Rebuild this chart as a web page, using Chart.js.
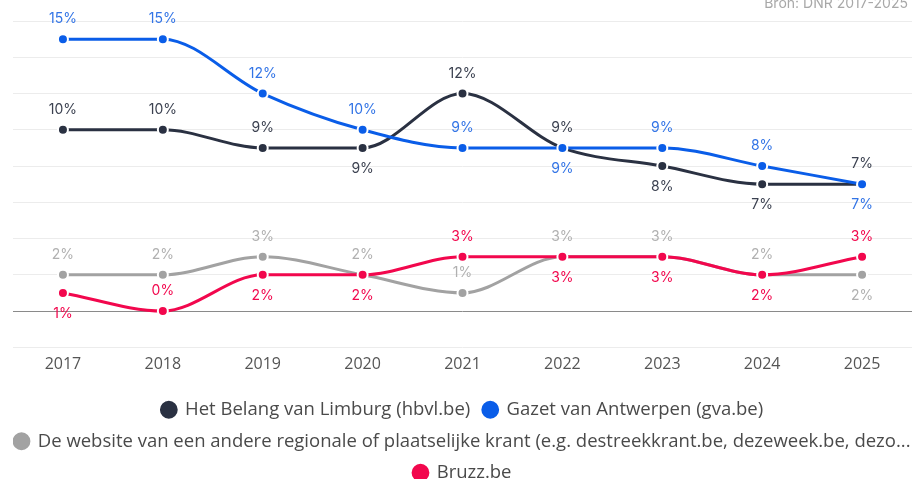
<!DOCTYPE html>
<html>
<head>
<meta charset="utf-8">
<script src="https://cdn.jsdelivr.net/npm/chart.js@4.4.1/dist/chart.umd.min.js"></script>
<style>
  html, body { margin:0; padding:0; background:#fff; overflow:hidden; }
  #wrap { width:920px; height:479px; overflow:hidden; position:relative; }
  #box { width:920px; height:492px; position:relative; }
</style>
</head>
<body>
<div id="wrap"><div id="box"><canvas id="chart"></canvas></div></div>
<script>
// ====== data ======
const years = ["2017","2018","2019","2020","2021","2022","2023","2024","2025"];

const hbvl   = [10, 10, 9, 9, 12, 9, 8, 7, 7];
const gva    = [15, 15, 12, 10, 9, 9, 9, 8, 7];
const other  = [2, 2, 3, 2, 1, 3, 3, 2, 2];
const bruzz  = [1, 0, 2, 2, 3, 3, 3, 2, 3];

const seriesNames = [
  "Het Belang van Limburg (hbvl.be)",
  "Gazet van Antwerpen (gva.be)",
  "De website van een andere regionale of plaatselijke krant (e.g. destreekkrant.be, dezeweek.be, dezo...",
  "Bruzz.be"
];

// label above (1) or below (-1) the point
const sideHbvl  = [1, 1, 1, -1, 1, 1, -1, -1, 1];
const sideGva   = [1, 1, 1, 1, 1, -1, 1, 1, -1];
const sideOther = [1, 1, 1, 1, 1, 1, 1, 1, -1];
const sideBruzz = [-1, 1, -1, -1, 1, -1, -1, -1, 1];

const yTicks = { min: -2, max: 16, step: 2 };
const source = "Bron: DNR 2017-2025";

// ====== styles ======
const COLORS = ["#2a3142", "#0a5de8", "#a2a2a2", "#f2074d"];
const LABEL_COLORS = ["#3b4150", "#3274e6", "#b0b0b0", "#f2074d"];
const SIDES = [sideHbvl, sideGva, sideOther, sideBruzz];

// later series on top
const mkSet = (i, data) => ({
  label: seriesNames[i],
  data,
  order: 4 - i,
  borderColor: COLORS[i],
  backgroundColor: COLORS[i],
  borderWidth: 3,
  pointRadius: 5,
  pointHoverRadius: 5,
  pointBackgroundColor: COLORS[i],
  pointBorderColor: "#fff",
  pointBorderWidth: 2,
  cubicInterpolationMode: "monotone",
  clip: false
});

// valeurs au-dessus / en dessous des points
const valueLabels = {
  id: "valueLabels",
  afterDatasetsDraw(chart) {
    const ctx = chart.ctx;
    ctx.save();
    ctx.font = "14px Inter, 'Open Sans', sans-serif";
    ctx.textAlign = "center";
    ctx.textBaseline = "middle";
    chart.data.datasets.forEach((ds, i) => {
      const meta = chart.getDatasetMeta(i);
      ctx.fillStyle = LABEL_COLORS[i];
      meta.data.forEach((pt, j) => {
        const off = SIDES[i][j] > 0 ? -20 : 21;
        ctx.fillText(ds.data[j] + "%", pt.x, pt.y + off);
      });
    });
    // source text top right
    ctx.font = "14px Inter, 'Open Sans', sans-serif";
    ctx.fillStyle = "#a8a8a8";
    ctx.textAlign = "right";
    ctx.fillText(source, 908, 4);
    ctx.restore();
  }
};

new Chart(document.getElementById("chart"), {
  type: "line",
  data: {
    labels: years,
    datasets: [mkSet(0, hbvl), mkSet(1, gva), mkSet(2, other), mkSet(3, bruzz)]
  },
  options: {
    responsive: true,
    maintainAspectRatio: false,
    animation: false,
    layout: { padding: { top: 21, left: 13, right: 8, bottom: 0 } },
    plugins: {
      legend: {
        position: "bottom",
        labels: {
          usePointStyle: true,
          pointStyle: "circle",
          boxWidth: 14,
          boxHeight: 14,
          padding: 13,
          color: "#4a4a4a",
          font: { family: "'Open Sans', sans-serif", size: 18.5 },
          sort: (a, b) => a.datasetIndex - b.datasetIndex
        }
      },
      tooltip: { enabled: false }
    },
    scales: {
      x: {
        offset: true,
        grid: { display: false },
        border: { display: false },
        ticks: { color: "#555", padding: 0, font: { family: "'Open Sans', sans-serif", size: 16 } },
        afterFit: s => { s.height += 13; }
      },
      y: {
        min: yTicks.min, max: yTicks.max,
        ticks: { display: false, stepSize: yTicks.step },
        border: { display: false },
        grid: {
          drawTicks: false,
          lineWidth: 1,
          color: c => c.tick && c.tick.value === 0 ? "#8a8a8a" : "#ececec"
        }
      }
    }
  },
  plugins: [valueLabels]
});
</script>
</body>
</html>
